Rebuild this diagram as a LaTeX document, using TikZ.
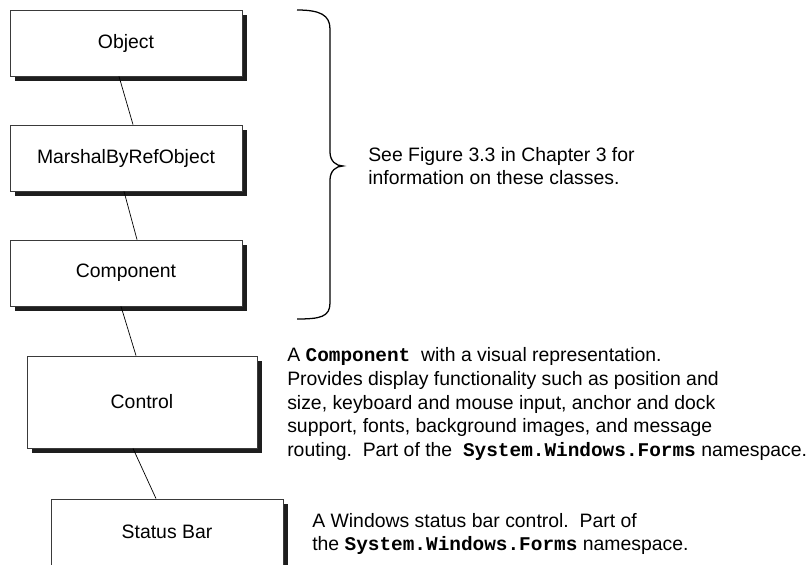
\documentclass[tikz,border=0pt]{standalone}
\usepackage{fontspec}
\setmainfont{Liberation Sans}
\setmonofont{Liberation Mono}
\usetikzlibrary{calc, shadows}
\definecolor{boxline}{HTML}{3A3A3A}
\definecolor{shade}{HTML}{1E1E1E}
\newcommand{\code}[1]{\texttt{\textbf{#1}}}

\begin{document}
\begin{tikzpicture}[
  font=\fontsize{13.8}{16.8}\selectfont,
  classbox/.style={
    draw=boxline, line width=0.6pt, fill=white,
    minimum width=5.8cm, minimum height=1.65cm, inner sep=0pt,
    drop shadow={shadow xshift=0.125cm, shadow yshift=-0.125cm,
                 fill=shade, opacity=1}
  },
  link/.style={line width=0.5pt, black},
  note/.style={anchor=west, align=left, inner sep=0pt},
]

% Page
\useasboundingbox (0,0) rectangle (20.15,14.125);

% Class hierarchy
\node[classbox] (object) at (3.15,13.05) {Object};
\node[classbox] (marshal) at (3.15,10.175) {MarshalByRefObject};
\node[classbox] (component) at (3.15,7.3) {Component};
\node[classbox, minimum width=5.75cm, minimum height=2.3cm] (control) at (3.55,4.075) {Control};
\node[classbox] (statusbar) at (4.175,0.825) {Status Bar};

% Links
\draw[link] ($(object.south)+(-0.175,0)$) -- ($(marshal.north)+(0.175,0)$);
\draw[link] ($(marshal.south)+(-0.05,0)$) -- ($(component.north)+(0.275,0)$);
\draw[link] ($(component.south)+(-0.125,0)$) -- ($(control.north)+(-0.15,0)$);
\draw[link] ($(control.south)+(-0.225,0)$) -- ($(statusbar.north)+(-0.275,0)$);

% Brace over the first three classes
\draw[line width=0.9pt, black]
  (7.425,13.875) .. controls (8.0,13.875) and (8.25,13.75) .. (8.25,13.4)
  -- (8.25,10.325) .. controls (8.25,10.1) and (8.4,9.975) .. (8.575,9.975)
  .. controls (8.4,9.975) and (8.25,9.85) .. (8.25,9.625)
  -- (8.25,6.55) .. controls (8.25,6.2) and (8.0,6.15) .. (7.425,6.15);

% Notes
\node[note] (seenote) at (9.2,9.975)
  {See Figure 3.3 in Chapter 3 for\\
   information on these classes.};

\node[note] (controlnote) at (7.175,4.025)
  {A \code{Component}\ \ with a visual representation.\\
   Provides display functionality such as position and\\
   size, keyboard and mouse input, anchor and dock\\
   support, fonts, background images, and message\\
   routing.\ \ Part of the \ \code{System.Windows.Forms} namespace.};

\node[note] (statusnote) at (7.8,0.775)
  {A Windows status bar control.\ \ Part of\\
   the \code{System.Windows.Forms} namespace.};

\end{tikzpicture}
\end{document}
